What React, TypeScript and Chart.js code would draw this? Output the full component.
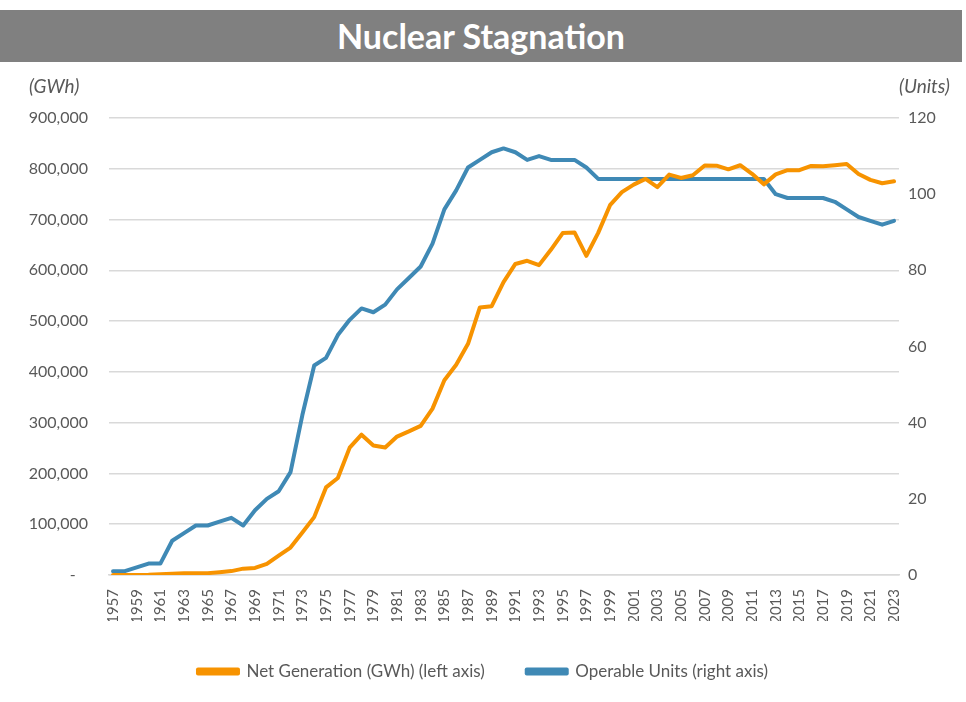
import React, { useEffect, useRef } from "react";
import { Chart, registerables } from "chart.js";

Chart.register(...registerables);

const years: number[] = [
  1957, 1958, 1959, 1960, 1961, 1962, 1963, 1964, 1965, 1966, 1967, 1968, 1969, 1970,
  1971, 1972, 1973, 1974, 1975, 1976, 1977, 1978, 1979, 1980, 1981, 1982, 1983, 1984,
  1985, 1986, 1987, 1988, 1989, 1990, 1991, 1992, 1993, 1994, 1995, 1996, 1997, 1998,
  1999, 2000, 2001, 2002, 2003, 2004, 2005, 2006, 2007, 2008, 2009, 2010, 2011, 2012,
  2013, 2014, 2015, 2016, 2017, 2018, 2019, 2020, 2021, 2022, 2023,
];

const netGenerationGWh: number[] = [
  10, 165, 188, 518, 1692, 2270, 3212, 3343, 3657, 5520, 7655, 12528, 13928, 21804,
  38105, 54091, 83479, 113976, 172505, 191104, 250883, 276403, 255155, 251116, 272674,
  282773, 293677, 327634, 383691, 414038, 455270, 526973, 529355, 576862, 612565,
  618776, 610291, 640440, 673402, 674729, 628644, 673702, 728254, 753893, 768826,
  780064, 763733, 788528, 781986, 787219, 806425, 806208, 798855, 806968, 790204,
  769331, 789016, 797166, 797178, 805694, 804950, 807084, 809409, 789879, 778152,
  771537, 775400,
];

const operableUnits: number[] = [
  1, 1, 2, 3, 3, 9, 11, 13, 13, 14, 15, 13, 17, 20, 22, 27, 42, 55, 57, 63, 67, 70, 69,
  71, 75, 78, 81, 87, 96, 101, 107, 109, 111, 112, 111, 109, 110, 109, 109, 109, 107,
  104, 104, 104, 104, 104, 104, 104, 104, 104, 104, 104, 104, 104, 104, 104, 100, 99,
  99, 99, 99, 98, 96, 94, 93, 92, 93,
];

const xTickYears: number[] = years.filter((y) => (y - 1957) % 2 === 0);

const TITLE = "Nuclear Stagnation";
const LEFT_UNIT = "(GWh)";
const RIGHT_UNIT = "(Units)";
const SERIES_GEN = "Net Generation (GWh) (left axis)";
const SERIES_UNITS = "Operable Units (right axis)";

const FONT = "Lato, 'Open Sans', 'DejaVu Sans', sans-serif";
const TEXT = "#595959";
const ORANGE = "#F79300";
const BLUE = "#3F89B5";

export default function App() {
  const ref = useRef<HTMLCanvasElement | null>(null);

  useEffect(() => {
    if (!ref.current) return;
    const chart = new Chart(ref.current, {
      type: "line",
      data: {
        datasets: [
          {
            label: SERIES_GEN,
            data: years.map((y, i) => ({ x: y, y: netGenerationGWh[i] })),
            borderColor: ORANGE,
            backgroundColor: ORANGE,
            borderWidth: 4,
            pointRadius: 0,
            tension: 0,
            yAxisID: "y",
            borderJoinStyle: "round",
            borderCapStyle: "round",
          },
          {
            label: SERIES_UNITS,
            data: years.map((y, i) => ({ x: y, y: operableUnits[i] })),
            borderColor: BLUE,
            backgroundColor: BLUE,
            borderWidth: 4,
            pointRadius: 0,
            tension: 0,
            yAxisID: "y1",
            borderJoinStyle: "round",
            borderCapStyle: "round",
          },
        ],
      },
      options: {
        animation: false,
        responsive: false,
        maintainAspectRatio: false,
        devicePixelRatio: 1,
        layout: { padding: { left: 0, right: 0, top: 118, bottom: 12 } },
        plugins: {
          title: { display: false },
          tooltip: { enabled: false },
          legend: {
            display: true,
            position: "bottom",
            labels: {
              boxWidth: 40,
              boxHeight: 4,
              padding: 42,
              color: TEXT,
              font: { family: FONT, size: 17 },
            },
          },
        },
        scales: {
          x: {
            type: "linear",
            min: 1956.66,
            max: 2023.42,
            grid: { display: false },
            border: { display: true, color: "#D9D9D9", width: 1.5 },
            afterBuildTicks: (scale: any) => {
              scale.ticks = xTickYears.map((v) => ({ value: v }));
            },
            afterFit: (scale: any) => {
              scale.height = 46;
            },
            ticks: {
              autoSkip: false,
              maxRotation: 90,
              minRotation: 90,
              padding: 6,
              color: TEXT,
              font: { family: FONT, size: 15 },
              callback: (v: any) => String(v),
            },
          },
          y: {
            type: "linear",
            position: "left",
            min: 0,
            max: 900000,
            grid: { color: "#D9D9D9", lineWidth: 1.5, drawTicks: false },
            border: { display: false },
            afterFit: (scale: any) => {
              scale.width = 109;
            },
            ticks: {
              stepSize: 100000,
              padding: 21,
              color: TEXT,
              font: { family: FONT, size: 16 },
              callback: (v: any) => (Number(v) === 0 ? "-   " : Number(v).toLocaleString("en-US")),
            },
          },
          y1: {
            type: "linear",
            position: "right",
            min: 0,
            max: 120,
            grid: { display: false, drawTicks: false },
            border: { display: false },
            afterFit: (scale: any) => {
              scale.width = 67;
            },
            ticks: {
              stepSize: 20,
              padding: 9,
              color: TEXT,
              font: { family: FONT, size: 16 },
            },
          },
        },
      },
    });
    return () => chart.destroy();
  }, []);

  return (
    <div style={{ position: "absolute", left: 0, top: 0, width: 966, height: 702, background: "#fff", fontFamily: FONT }}>
      <canvas ref={ref} width={966} height={702} style={{ position: "absolute", left: 0, top: 0, width: 966, height: 702 }} />
      <div
        style={{
          position: "absolute",
          left: 0,
          top: 10,
          width: 962,
          height: 52,
          background: "#808080",
          color: "#fff",
          fontWeight: 700,
          fontSize: 34,
          lineHeight: "52px",
          textAlign: "center",
          fontFamily: FONT,
        }}
      >
        {TITLE}
      </div>
      <div style={{ position: "absolute", left: 29, top: 73, fontSize: 19, fontStyle: "italic", color: TEXT, lineHeight: "26px" }}>
        {LEFT_UNIT}
      </div>
      <div style={{ position: "absolute", right: 16, top: 73, fontSize: 19, fontStyle: "italic", color: TEXT, lineHeight: "26px" }}>
        {RIGHT_UNIT}
      </div>
    </div>
  );
}
